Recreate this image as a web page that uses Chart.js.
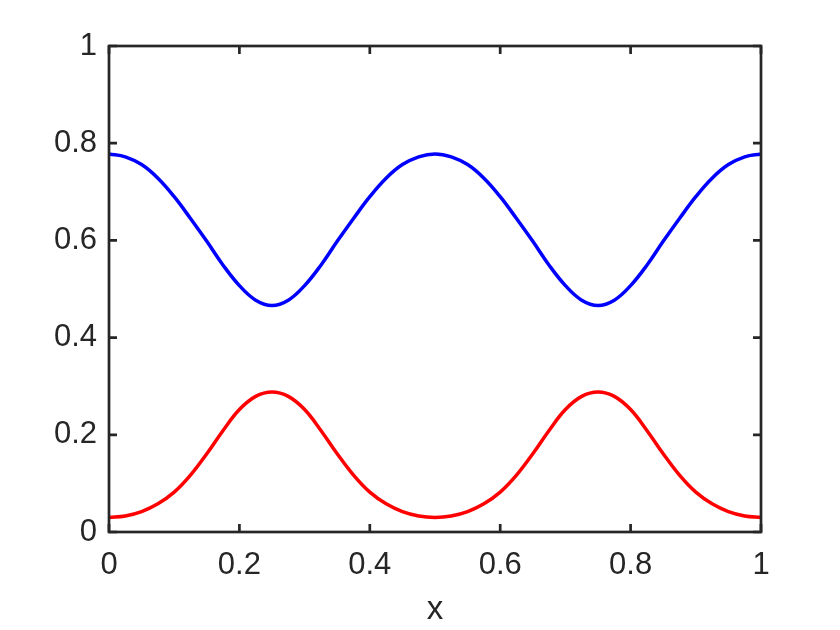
<!DOCTYPE html>
<html>
<head>
<meta charset="utf-8">
<script src="https://cdn.jsdelivr.net/npm/chart.js@4.4.1/dist/chart.umd.min.js"></script>
<style>
  html, body { margin: 0; padding: 0; background: #fff; }
  canvas { display: block; }
</style>
</head>
<body>
<canvas id="myChart" width="840" height="630"></canvas>
<script>
const xs = [0, 0.025, 0.05, 0.075, 0.1, 0.125, 0.15, 0.175, 0.2, 0.225,
  0.25, 0.275, 0.3, 0.325, 0.35, 0.375, 0.4, 0.425, 0.45, 0.475,
  0.5, 0.525, 0.55, 0.575, 0.6, 0.625, 0.65, 0.675, 0.7, 0.725,
  0.75, 0.775, 0.8, 0.825, 0.85, 0.875, 0.9, 0.925, 0.95, 0.975, 1];

const blueVals = [0.778, 0.772, 0.756, 0.728, 0.690, 0.645, 0.598, 0.549, 0.507, 0.477,
  0.466, 0.477, 0.507, 0.549, 0.598, 0.645, 0.690, 0.728, 0.756, 0.772,
  0.778, 0.772, 0.756, 0.728, 0.690, 0.645, 0.598, 0.549, 0.507, 0.477,
  0.466, 0.477, 0.507, 0.549, 0.598, 0.645, 0.690, 0.728, 0.756, 0.772, 0.778];

const redVals = [0.030, 0.033, 0.042, 0.058, 0.082, 0.117, 0.161, 0.209, 0.252, 0.279,
  0.288, 0.279, 0.252, 0.209, 0.161, 0.117, 0.082, 0.058, 0.042, 0.033,
  0.030, 0.033, 0.042, 0.058, 0.082, 0.117, 0.161, 0.209, 0.252, 0.279,
  0.288, 0.279, 0.252, 0.209, 0.161, 0.117, 0.082, 0.058, 0.042, 0.033, 0.030];

const tickVals = [0, 0.2, 0.4, 0.6, 0.8, 1];
const tickLabels = ['0', '0.2', '0.4', '0.6', '0.8', '1'];

const axisColor = '#262626';
const fontFamily = 'Liberation Sans, Arial, Helvetica, sans-serif';

function toPoints(vals) {
  return xs.map((x, i) => ({ x: x, y: vals[i] }));
}

// box around the axes with ticks pointing inward (matlab style)
const boxPlugin = {
  id: 'box',
  afterDatasetsDraw(chart) {
    const ctx = chart.ctx;
    const a = chart.chartArea;
    const sx = chart.scales.x, sy = chart.scales.y;
    const len = 8;
    ctx.save();
    ctx.strokeStyle = axisColor;
    ctx.lineWidth = 2.7;
    ctx.beginPath();
    tickVals.forEach(v => {
      const px = sx.getPixelForValue(v);
      ctx.moveTo(px, a.bottom); ctx.lineTo(px, a.bottom - len);
      ctx.moveTo(px, a.top); ctx.lineTo(px, a.top + len);
      const py = sy.getPixelForValue(v);
      ctx.moveTo(a.left, py); ctx.lineTo(a.left + len, py);
      ctx.moveTo(a.right, py); ctx.lineTo(a.right - len, py);
    });
    ctx.stroke();
    ctx.strokeRect(a.left, a.top, a.right - a.left, a.bottom - a.top);
    ctx.restore();
  }
};

const config = {
  type: 'line',
  data: {
    datasets: [
      {
        data: toPoints(blueVals),
        borderColor: '#0000ff',
        borderWidth: 3.5,
        pointRadius: 0,
        tension: 0.4,
        fill: false,
      },
      {
        data: toPoints(redVals),
        borderColor: '#ff0000',
        borderWidth: 3.5,
        pointRadius: 0,
        tension: 0.4,
        fill: false,
      },
    ],
  },
  options: {
    responsive: false,
    animation: false,
    devicePixelRatio: 1,
    layout: { padding: { left: 0, right: 79, top: 46, bottom: 0 } },
    scales: {
      x: {
        type: 'linear',
        min: 0,
        max: 1,
        afterFit: s => { s.height = 98; },
        afterBuildTicks: s => { s.ticks = tickVals.map(v => ({ value: v })); },
        grid: { display: false, drawTicks: false },
        border: { display: false },
        ticks: {
          padding: 15,
          color: axisColor,
          font: { family: fontFamily, size: 31 },
          maxRotation: 0,
          callback: (v, i) => tickLabels[i],
        },
        title: {
          display: true,
          text: 'x',
          color: axisColor,
          font: { family: fontFamily, size: 33 },
          padding: { top: 0, bottom: 0 },
        },
      },
      y: {
        type: 'linear',
        min: 0,
        max: 1,
        afterFit: s => { s.width = 109; },
        afterBuildTicks: s => { s.ticks = tickVals.map(v => ({ value: v })); },
        grid: { display: false, drawTicks: false },
        border: { display: false },
        ticks: {
          padding: 12,
          color: axisColor,
          font: { family: fontFamily, size: 31 },
          callback: (v, i) => tickLabels[i],
        },
      },
    },
    plugins: {
      legend: { display: false },
      tooltip: { enabled: false },
    },
  },
  plugins: [boxPlugin],
};

const myChart = new Chart(document.getElementById('myChart'), config);
</script>
</body>
</html>
